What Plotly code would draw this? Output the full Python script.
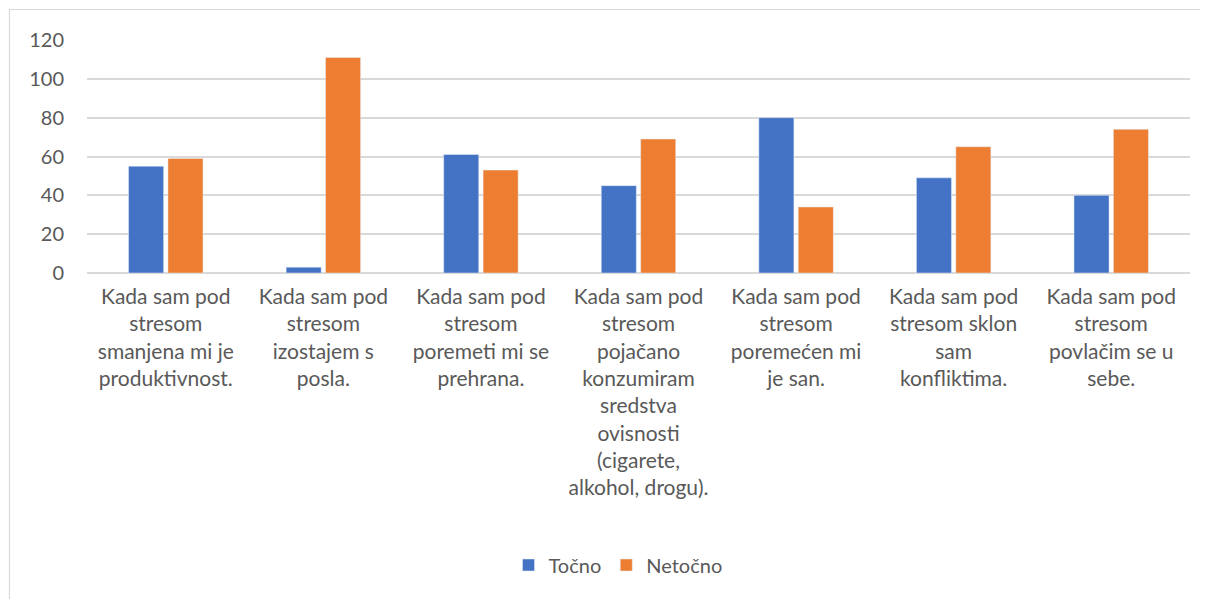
import plotly.graph_objects as go

categories = [
    "Kada sam pod<br>stresom<br>smanjena mi je<br>produktivnost.",
    "Kada sam pod<br>stresom<br>izostajem s<br>posla.",
    "Kada sam pod<br>stresom<br>poremeti mi se<br>prehrana.",
    "Kada sam pod<br>stresom<br>pojačano<br>konzumiram<br>sredstva<br>ovisnosti<br>(cigarete,<br>alkohol, drogu).",
    "Kada sam pod<br>stresom<br>poremećen mi<br>je san.",
    "Kada sam pod<br>stresom sklon<br>sam<br>konfliktima.",
    "Kada sam pod<br>stresom<br>povlačim se u<br>sebe.",
]
tocno = [55, 3, 61, 45, 80, 49, 40]
netocno = [59, 111, 53, 69, 34, 65, 74]
y_ticks = [0, 20, 40, 60, 80, 100, 120]

FONT = "Lato"
TXT = "#595959"

fig = go.Figure()
fig.add_trace(go.Bar(name="Točno", x=categories, y=tocno, marker_color="#4472C4"))
fig.add_trace(go.Bar(name="Netočno", x=categories, y=netocno, marker_color="#ED7D31"))

OFF = 8  # default page body margin
W, H = 1200, 591
L, R, T, B = 79, 18, 32, 326
pw, ph = W - L - R, H - T - B

def px(x):  # page x -> paper
    return (x - OFF - L) / pw

def py(y):  # page y -> paper
    return (H - B - (y - OFF)) / ph

fig.update_layout(
    width=W, height=H,
    margin=dict(l=L, r=R, t=T, b=B, autoexpand=False),
    paper_bgcolor="white", plot_bgcolor="white",
    barmode="group", bargap=0.5, bargroupgap=0.11,
    font=dict(family=FONT, size=21, color=TXT),
    showlegend=True,
    legend=dict(orientation="h", x=px(618), xanchor="center", y=py(565), yanchor="middle",
                font=dict(family=FONT, size=20, color=TXT), itemwidth=30),
    xaxis=dict(showline=False, ticks="", tickangle=0, tickfont=dict(size=21, color=TXT),
               ticklabelstandoff=9),
    yaxis=dict(range=[0, 120], tickvals=y_ticks, showgrid=True, gridcolor="#d9d9d9", gridwidth=1.5,
               zeroline=True, zerolinecolor="#d9d9d9", zerolinewidth=1.5, showline=False,
               ticks="", tickfont=dict(size=20, color=TXT), ticklabelstandoff=22),
    shapes=[dict(type="rect", xref="paper", yref="paper",
                 x0=px(9.5), x1=px(1215), y0=py(605), y1=py(9.5),
                 line=dict(color="#d9d9d9", width=1.2), fillcolor="rgba(0,0,0,0)", layer="below")],
)

fig.write_html("out.html")
